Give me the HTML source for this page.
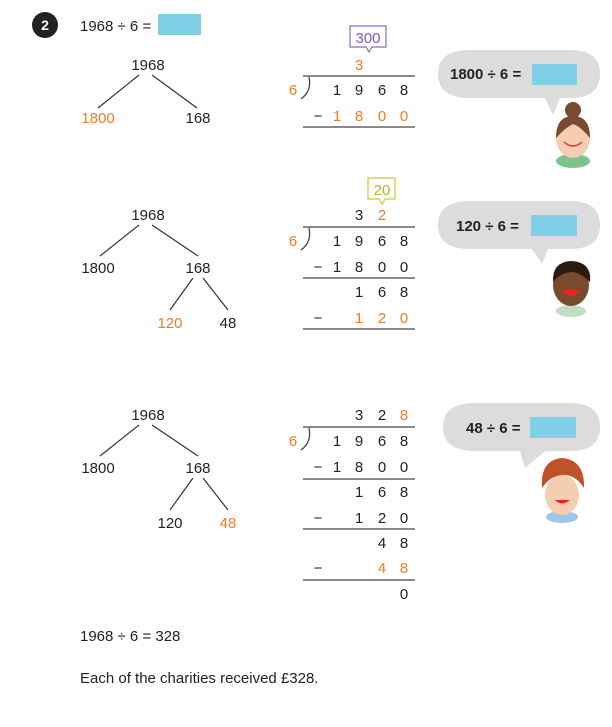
<!DOCTYPE html>
<html><head><meta charset="utf-8"><style>
html,body{margin:0;padding:0;background:#fff;}
svg text{font-family:"Liberation Sans",sans-serif;font-size:15px;fill:#222;}
.o{fill:#f07c28 !important;}
.b{font-weight:bold;}
</style></head><body>
<svg width="612" height="722" viewBox="0 0 612 722" xmlns="http://www.w3.org/2000/svg">
<circle cx="45" cy="25" r="13" fill="#222"/>
<text x="45" y="30" text-anchor="middle" style="fill:#fff;font-weight:bold;font-size:14px">2</text>
<text x="80" y="31">1968 ÷ 6 =</text>
<rect x="158" y="14" width="43" height="21" fill="#7fd0e6"/>

<g stroke="#333" stroke-width="1.2">
<line x1="139" y1="75" x2="98" y2="108"/><line x1="152" y1="75" x2="197" y2="108"/>
<line x1="139" y1="225" x2="100" y2="256"/><line x1="152" y1="225" x2="198" y2="256"/>
<line x1="193" y1="278" x2="170" y2="310"/><line x1="203" y1="278" x2="228" y2="310"/>
<line x1="139" y1="425" x2="100" y2="456"/><line x1="152" y1="425" x2="198" y2="456"/>
<line x1="193" y1="478" x2="170" y2="510"/><line x1="203" y1="478" x2="228" y2="510"/>
</g>
<g text-anchor="middle">
<text x="148" y="70">1968</text><text x="98" y="123" class="o">1800</text><text x="198" y="123">168</text>
<text x="148" y="220">1968</text><text x="98" y="273">1800</text><text x="198" y="273">168</text>
<text x="170" y="328" class="o">120</text><text x="228" y="328">48</text>
<text x="148" y="420">1968</text><text x="98" y="473">1800</text><text x="198" y="473">168</text>
<text x="170" y="528">120</text><text x="228" y="528" class="o">48</text>
</g>

<g stroke="#444" stroke-width="1.3" fill="none">
<line x1="303" y1="76" x2="415" y2="76"/><path d="M309 77 Q312 91 301 99"/>
<line x1="303" y1="127" x2="415" y2="127"/>
<line x1="303" y1="227" x2="415" y2="227"/><path d="M309 228 Q312 242 301 250"/>
<line x1="303" y1="278" x2="415" y2="278"/><line x1="303" y1="329" x2="415" y2="329"/>
<line x1="303" y1="427" x2="415" y2="427"/><path d="M309 428 Q312 442 301 450"/>
<line x1="303" y1="479" x2="415" y2="479"/><line x1="303" y1="529" x2="415" y2="529"/>
<line x1="303" y1="580" x2="415" y2="580"/>
</g>
<path d="M350 26 H386 V47 H372 L369 52 L366 47 H350 Z" fill="none" stroke="#8a6cc0" stroke-width="1.2"/>
<text x="368" y="43" text-anchor="middle" style="fill:#7a5cb5">300</text>
<path d="M368 178 H395 V199 H385 L382 204 L379 199 H368 Z" fill="none" stroke="#c9cc3a" stroke-width="1.2"/>
<text x="382" y="195" text-anchor="middle" style="fill:#b5b82a">20</text>
<g text-anchor="middle">
<text x="359" y="70" class="o">3</text>
<text x="293" y="95" class="o">6</text>
<text x="337" y="95">1</text><text x="359" y="95">9</text><text x="382" y="95">6</text><text x="404" y="95">8</text>
<text x="318" y="121">−</text><text x="337" y="121" class="o">1</text><text x="359" y="121" class="o">8</text><text x="382" y="121" class="o">0</text><text x="404" y="121" class="o">0</text>

<text x="359" y="220">3</text><text x="382" y="220" class="o">2</text>
<text x="293" y="246" class="o">6</text>
<text x="337" y="246">1</text><text x="359" y="246">9</text><text x="382" y="246">6</text><text x="404" y="246">8</text>
<text x="318" y="272">−</text><text x="337" y="272">1</text><text x="359" y="272">8</text><text x="382" y="272">0</text><text x="404" y="272">0</text>
<text x="359" y="297">1</text><text x="382" y="297">6</text><text x="404" y="297">8</text>
<text x="318" y="323">−</text><text x="359" y="323" class="o">1</text><text x="382" y="323" class="o">2</text><text x="404" y="323" class="o">0</text>

<text x="359" y="420">3</text><text x="382" y="420">2</text><text x="404" y="420" class="o">8</text>
<text x="293" y="446" class="o">6</text>
<text x="337" y="446">1</text><text x="359" y="446">9</text><text x="382" y="446">6</text><text x="404" y="446">8</text>
<text x="318" y="472">−</text><text x="337" y="472">1</text><text x="359" y="472">8</text><text x="382" y="472">0</text><text x="404" y="472">0</text>
<text x="359" y="497">1</text><text x="382" y="497">6</text><text x="404" y="497">8</text>
<text x="318" y="523">−</text><text x="359" y="523">1</text><text x="382" y="523">2</text><text x="404" y="523">0</text>
<text x="382" y="548">4</text><text x="404" y="548">8</text>
<text x="318" y="573">−</text><text x="382" y="573" class="o">4</text><text x="404" y="573" class="o">8</text>
<text x="404" y="599">0</text>
</g>

<g fill="#dcdcdc">
<path d="M470 50 H570 Q600 50 600 74 Q600 98 570 98 H560 L553 115 L545 98 H470 Q438 98 438 74 Q438 50 470 50 Z"/>
<path d="M470 201 H570 Q600 201 600 225 Q600 249 570 249 H548 L542 264 L532 249 H470 Q438 249 438 225 Q438 201 470 201 Z"/>
<path d="M475 403 H570 Q600 403 600 427 Q600 451 570 451 H545 L525 468 L520 451 H475 Q443 451 443 427 Q443 403 475 403 Z"/>
</g>
<text x="450" y="79" class="b">1800 ÷ 6 =</text><rect x="532" y="64" width="45" height="21" fill="#7fd0e6"/>
<text x="456" y="231" class="b">120 ÷ 6 =</text><rect x="531" y="215" width="46" height="21" fill="#7fd0e6"/>
<text x="466" y="433" class="b">48 ÷ 6 =</text><rect x="530" y="417" width="46" height="21" fill="#7fd0e6"/>

<ellipse cx="573" cy="161" rx="17" ry="7" fill="#7cc48a"/>
<ellipse cx="573" cy="138" rx="17" ry="20" fill="#f5cdb0"/>
<path d="M556 138 Q556 116 573 116 Q590 116 590 138 Q580 126 573 124 Q565 128 556 138Z" fill="#7a4a32"/>
<circle cx="573" cy="110" r="8" fill="#7a4a32"/>
<path d="M564 142 Q573 150 582 142" stroke="#e33" stroke-width="1.5" fill="none"/>

<ellipse cx="571" cy="311" rx="15" ry="6" fill="#bfe0c0"/>
<ellipse cx="571" cy="285" rx="18" ry="21" fill="#7a4a2c"/>
<path d="M553 282 Q552 262 571 261 Q592 262 590 282 Q580 272 571 272 Q560 273 553 282Z" fill="#2a1a10"/>
<path d="M562 290 Q571 302 580 290Z" fill="#e22"/>

<ellipse cx="562" cy="517" rx="16" ry="6" fill="#9cc9ea"/>
<ellipse cx="562" cy="495" rx="17" ry="20" fill="#f5cdb0"/>
<path d="M542 488 Q540 460 562 458 Q585 460 584 488 Q575 474 562 475 Q550 476 542 488Z" fill="#c0522a"/>
<path d="M555 500 Q562 507 570 500Z" fill="#e22"/>

<text x="80" y="641">1968 ÷ 6 = 328</text>
<text x="80" y="683">Each of the charities received £328.</text>
</svg>
</body></html>
